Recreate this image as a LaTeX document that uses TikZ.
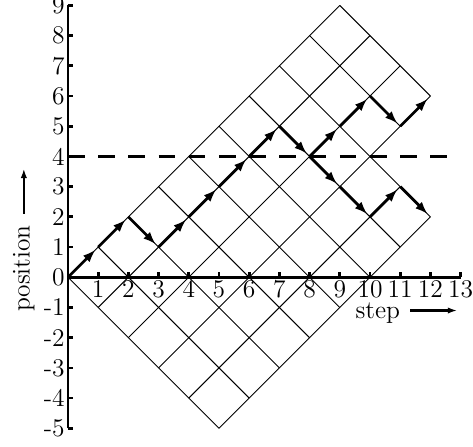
\documentclass[tikz,border=0pt]{standalone}
\usetikzlibrary{arrows.meta}

\begin{document}
\begin{tikzpicture}[x=0.5cm, y=0.5cm, font=\large,
	lattice/.style={line width=0.45pt},
	axis/.style={line width=1.3pt},
	walk/.style={line width=1.3pt, -{Latex[length=6pt, width=4.4pt]}, shorten >=1.8pt},
	barrier/.style={line width=1.1pt, dash pattern=on 0.275cm off 0.225cm},
	pointer/.style={line width=1pt, -{Latex[length=4.5pt, width=3pt]}}]
	\useasboundingbox (-2.25,-5.59) rectangle (13.41,9.18);
	% lattice
	\foreach \u in {0,...,9}{
		\pgfmathsetmacro{\m}{\u<8 ? 5 : 3}
		\draw[lattice] (\u,\u) -- ++(\m,-\m);
	}
	\foreach \v in {0,...,5}{
		\pgfmathsetmacro{\n}{\v<4 ? 9 : 7}
		\draw[lattice] (\v,-\v) -- ++(\n,\n);
	}
	\draw[barrier] (0,4) -- (12.55,4);
	% axes
	\draw[axis] (0,-5) -- (0,9);
	\draw[axis] (0,0) -- (13,0);
	\foreach \y in {-5,...,9}{
		\draw[axis] (0,\y) -- (0.17,\y);
		\node[anchor=east, inner sep=1.4pt] (ylab\y) at (0,\y) {\y};
	}
	\foreach \x in {1,...,13}{
		\draw[axis] (\x,0) -- (\x,0.17);
		\node[anchor=north, inner sep=1.3pt] (xlab\x) at (\x,0) {\x};
	}
	% walk
	\foreach \x/\y in {0/0,1/1,2/2,3/1,4/2,5/3,6/4,7/5,8/4,9/5,10/6,11/5,12/6,9/3,10/2,11/3,12/2}
		\coordinate (w\x-\y) at (\x,\y);
	\foreach \a/\b in {0-0/1-1, 1-1/2-2, 2-2/3-1, 3-1/4-2, 4-2/5-3, 5-3/6-4, 6-4/7-5, 7-5/8-4,
		8-4/9-5, 9-5/10-6, 10-6/11-5, 11-5/12-6, 8-4/9-3, 9-3/10-2, 10-2/11-3, 11-3/12-2}
		\draw[walk] (w\a) -- (w\b);
	% labels
	\node[rotate=90, inner sep=0pt] (poslab) at (-1.46,0.29) {position};
	\coordinate (posend) at (-1.46,3.6);
	\draw[pointer, shorten <=0.18cm] (poslab.east) -- (posend);
	\node[inner sep=0pt] (steplab) at (10.26,-1.19) {step};
	\coordinate (stepend) at (12.89,-1.1);
	\draw[pointer, shorten <=0.165cm] (steplab.east |- stepend) -- (stepend);
\end{tikzpicture}
\end{document}
